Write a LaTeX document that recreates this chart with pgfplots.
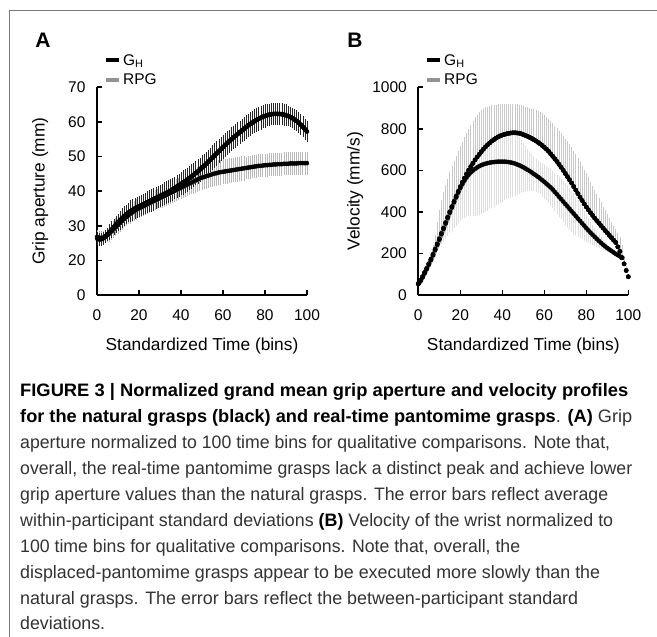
\documentclass[border=0pt]{standalone}
\usepackage{fontspec}
\setmainfont{Liberation Sans}
\usepackage{graphicx}
\usepackage{pgfplots}
\usepackage{pgfplotstable}
\pgfplotsset{compat=1.18}

\definecolor{rpggray}{RGB}{147,147,147}
\definecolor{barA}{HTML}{B8B8B8}
\definecolor{barBgh}{HTML}{C8C8C8}
\definecolor{barBrpg}{HTML}{DEDEDE}
\definecolor{captxt}{HTML}{333333}
\definecolor{frame}{HTML}{7A7A7A}

% panel A: grip aperture, mean and SD per time bin
\pgfplotstableread{
x gh ghsd rpg rpgsd
0 26.3 1.9 26.8 2.0
1 26.1 1.9 26.6 2.0
2 26.1 1.9 26.5 2.0
3 26.4 1.9 26.6 2.0
4 26.9 1.9 26.9 2.0
5 27.5 1.9 27.3 2.0
6 28.2 2.4 27.8 2.5
7 28.9 2.4 28.4 2.5
8 29.6 2.4 29.0 2.5
9 30.3 2.4 29.6 2.5
10 31.0 2.4 30.2 2.5
11 31.6 2.8 30.8 2.5
12 32.2 2.8 31.4 2.5
13 32.8 2.8 32.0 2.5
14 33.3 2.8 32.5 2.5
15 33.8 2.8 33.0 2.5
16 34.2 3.1 33.5 2.9
17 34.6 3.1 33.9 2.9
18 35.0 3.1 34.3 2.9
19 35.3 3.1 34.7 2.9
20 35.6 3.1 35.0 2.9
21 35.9 3.1 35.3 2.9
22 36.2 3.1 35.6 2.9
23 36.5 3.1 35.9 2.9
24 36.8 3.1 36.2 2.9
25 37.1 3.1 36.5 2.9
26 37.4 3.3 36.8 2.9
27 37.7 3.3 37.1 2.9
28 38.0 3.3 37.4 2.9
29 38.3 3.3 37.7 2.9
30 38.6 3.3 38.0 2.9
31 38.9 3.3 38.3 3.2
32 39.2 3.3 38.6 3.2
33 39.5 3.3 38.9 3.2
34 39.8 3.3 39.2 3.2
35 40.1 3.3 39.5 3.2
36 40.5 3.3 39.8 3.2
37 40.9 3.3 40.1 3.2
38 41.3 3.3 40.4 3.2
39 41.7 3.3 40.7 3.2
40 42.1 3.3 41.0 3.2
41 42.5 3.5 41.3 3.2
42 42.9 3.5 41.6 3.2
43 43.3 3.5 41.9 3.2
44 43.8 3.5 42.2 3.2
45 44.2 3.5 42.5 3.2
46 44.7 3.5 42.8 3.6
47 45.2 3.5 43.1 3.6
48 45.7 3.5 43.4 3.6
49 46.2 3.5 43.7 3.6
50 46.8 3.5 43.9 3.6
51 47.3 3.5 44.1 3.6
52 47.9 3.5 44.3 3.6
53 48.5 3.5 44.5 3.6
54 49.1 3.5 44.7 3.6
55 49.7 3.5 44.9 3.6
56 50.3 3.5 45.1 3.6
57 50.9 3.5 45.2 3.6
58 51.5 3.5 45.4 3.6
59 52.1 3.5 45.5 3.6
60 52.7 3.5 45.6 3.6
61 53.3 3.4 45.7 3.6
62 53.9 3.4 45.8 3.6
63 54.4 3.4 45.9 3.6
64 55.0 3.4 46.0 3.6
65 55.5 3.4 46.1 3.6
66 56.0 3.4 46.2 3.6
67 56.5 3.4 46.3 3.6
68 57.0 3.4 46.4 3.6
69 57.5 3.4 46.5 3.6
70 58.0 3.4 46.6 3.6
71 58.5 3.4 46.7 3.3
72 59.0 3.4 46.8 3.3
73 59.4 3.4 46.9 3.3
74 59.8 3.4 47.0 3.3
75 60.2 3.4 47.1 3.3
76 60.6 3.4 47.2 3.3
77 60.9 3.4 47.3 3.3
78 61.2 3.4 47.3 3.3
79 61.5 3.4 47.4 3.3
80 61.7 3.4 47.5 3.3
81 61.9 3.2 47.5 3.3
82 62.1 3.2 47.6 3.3
83 62.2 3.2 47.6 3.3
84 62.3 3.2 47.7 3.3
85 62.3 3.2 47.7 3.3
86 62.3 3.2 47.8 3.3
87 62.3 3.2 47.8 3.3
88 62.2 3.2 47.8 3.3
89 62.1 3.2 47.9 3.3
90 61.9 3.2 47.9 3.3
91 61.7 3.0 47.9 3.3
92 61.4 3.0 48.0 3.3
93 61.1 3.0 48.0 3.3
94 60.7 3.0 48.0 3.3
95 60.3 3.0 48.0 3.3
96 59.8 3.0 48.1 3.3
97 59.2 3.0 48.1 3.3
98 58.6 3.0 48.1 3.3
99 57.9 3.0 48.1 3.3
100 57.2 3.0 48.1 3.3
}\dataA

% panel B: wrist velocity, G_H with upper SD
\pgfplotstableread{
x gh ghup
0 55 5
1 70 5
2 88 7
3 108 7
4 128 12
5 150 15
6 172 28
7 195 45
8 220 70
9 245 105
10 270 140
11 296 159
12 322 173
13 348 182
14 374 186
15 400 190
16 425 195
17 450 195
18 475 195
19 498 194
20 521 194
21 543 195
22 563 197
23 583 197
24 601 199
25 618 202
26 634 206
27 650 205
28 664 204
29 677 203
30 690 200
31 702 195
32 713 190
33 723 184
34 732 178
35 741 172
36 748 167
37 755 162
38 761 157
39 766 153
40 770 150
41 773 147
42 776 144
43 778 142
44 780 140
45 781 139
46 781 139
47 780 140
48 779 137
49 776 137
50 772 138
51 768 138
52 764 139
53 759 141
54 754 143
55 748 146
56 742 148
57 735 151
58 728 153
59 720 154
60 711 155
61 702 156
62 692 156
63 680 158
64 668 159
65 656 159
66 643 160
67 629 162
68 615 163
69 600 166
70 585 167
71 570 170
72 555 173
73 539 173
74 522 173
75 505 172
76 488 171
77 471 170
78 455 167
79 439 165
80 424 162
81 410 156
82 396 150
83 383 143
84 370 136
85 358 128
86 346 120
87 334 112
88 322 104
89 310 97
90 299 89
91 287 83
92 276 76
93 264 70
94 253 63
95 232 66
96 210 71
97 180 60
98 150 40
99 118 22
100 88 12
}\dataBgh

% panel B: RPG with SD (ends at bin 97)
\pgfplotstableread{
x rpg rpgsd
0 52 7
1 66 6
2 84 8
3 104 9
4 124 12
5 146 16
6 168 20
7 191 26
8 216 31
9 241 31
10 266 34
11 292 47
12 318 61
13 344 74
14 370 85
15 396 98
16 421 111
17 446 125
18 470 137
19 493 148
20 515 158
21 534 166
22 551 179
23 566 191
24 579 201
25 590 210
26 599 218
27 607 225
28 614 230
29 620 234
30 625 235
31 629 235
32 632 233
33 635 230
34 637 225
35 639 220
36 640 214
37 641 208
38 642 203
39 642 198
40 642 193
41 642 187
42 641 181
43 640 175
44 638 169
45 636 163
46 633 155
47 629 146
48 625 137
49 620 127
50 615 118
51 609 109
52 603 101
53 597 95
54 590 89
55 583 84
56 576 80
57 569 78
58 561 77
59 553 81
60 545 81
61 536 81
62 527 85
63 518 88
64 508 91
65 496 93
66 485 95
67 473 96
68 462 98
69 450 100
70 438 101
71 427 102
72 415 101
73 403 99
74 392 97
75 380 93
76 368 88
77 357 83
78 345 77
79 334 72
80 322 65
81 311 59
82 300 53
83 290 48
84 280 43
85 270 38
86 260 33
87 251 29
88 242 25
89 234 21
90 226 17
91 219 14
92 212 12
93 205 10
94 198 8
95 192 7
96 186 8
97 178 8
}\dataBrpg

\pgfplotsset{panel/.style={
  scale only axis, width=210pt, height=207.7pt, anchor=south west,
  xmin=0, xmax=100, xtick={0,20,40,60,80,100},
  axis x line*=bottom, axis y line*=left,
  axis line style={line width=2.2pt, black},
  tick align=inside, major tick length=5pt,
  major tick style={line width=1.6pt, black},
  tick label style={font=\fontsize{15.5}{16}\selectfont, text=black},
  /pgf/number format/assume math mode=true,
  /pgf/number format/1000 sep={},
  xticklabel style={yshift=-11pt},
  yticklabel style={xshift=-8pt},
  label style={font=\fontsize{17.3}{18}\selectfont},
  xlabel={Standardized Time (bins)},
  xlabel style={at={(rel axis cs:0.5,-0.245)}, anchor=center},
  ylabel style={anchor=center},
  clip=false,
  legend style={draw=none, fill=none, anchor=north west, inner sep=0pt,
    font=\fontsize{15.5}{16}\selectfont, row sep=3pt, cells={anchor=west}},
  legend image code/.code={\draw[##1, line width=4pt] (0pt,0pt) -- (13pt,0pt);},
  % bars only: the markers of these plots are made invisible
  barsonly/.style={only marks, mark=*, mark options={draw=none, fill=none}, forget plot},
  meanline/.style={color=##1, draw=##1, line width=4.5pt, mark=none, forget plot},
}}

\newcommand{\capline}[3]{\node at (20pt,#1) {\resizebox{#2}{\height}{#3}};}

\begin{document}
\begin{tikzpicture}
\useasboundingbox (0,0) rectangle (657pt,637pt);
\fill[white] (0,0) rectangle (657pt,637pt);
\draw[frame, line width=1pt] (9pt,0pt) -- (9pt,626pt) -- (657pt,626pt);

\node[font=\fontsize{21}{21}\selectfont\bfseries] at (43pt,597pt) {A};
\node[font=\fontsize{21}{21}\selectfont\bfseries] at (355pt,597pt) {B};

% ---- panel A
\begin{axis}[panel, at={(97pt,342pt)},
  ymin=10, ymax=70, ytick={10,20,30,40,50,60,70},
  yticklabels={0,20,30,40,50,60,70},
  ylabel={Grip aperture (mm)},
  ylabel style={at={(rel axis cs:-0.271,0.5)}},
  legend style={at={(rel axis cs:0.033,1.17)}}]
\addplot[barsonly,
  error bars/.cd, y dir=both, y explicit, error mark=none,
  error bar style={line width=0.8pt, draw=barA}]
  table[x=x, y=rpg, y error=rpgsd]{\dataA};
\addplot[barsonly,
  error bars/.cd, y dir=both, y explicit, error mark=none,
  error bar style={line width=0.55pt, draw=black!85}]
  table[x=x, y=gh, y error=ghsd]{\dataA};
\addplot[meanline=rpggray] table[x=x, y=rpg]{\dataA};
\addplot[meanline=black] table[x=x, y=gh]{\dataA};
\addlegendimage{black}
\addlegendentry{G\textsubscript{H}}
\addlegendimage{rpggray}
\addlegendentry{RPG}
\end{axis}

% ---- panel B
\begin{axis}[panel, at={(418.3pt,342pt)},
  ymin=0, ymax=1000, ytick={0,200,400,600,800,1000},
  ylabel={Velocity (mm/s)},
  ylabel style={at={(rel axis cs:-0.301,0.5)}},
  legend style={at={(rel axis cs:0.032,1.17)}}]
\addplot[barsonly,
  error bars/.cd, y dir=both, y explicit, error mark=none,
  error bar style={line width=0.8pt, draw=barBrpg}]
  table[x=x, y=rpg, y error=rpgsd]{\dataBrpg};
\addplot[barsonly,
  error bars/.cd, y dir=plus, y explicit, error mark=none,
  error bar style={line width=0.8pt, draw=barBgh}]
  table[x=x, y=gh, y error=ghup]{\dataBgh};
\addplot[meanline=rpggray] table[x=x, y=rpg]{\dataBrpg};
\addplot[black, only marks, mark=*, mark size=2.2pt, forget plot] table[x=x, y=gh]{\dataBgh};
\addlegendimage{black}
\addlegendentry{G\textsubscript{H}}
\addlegendimage{rpggray}
\addlegendentry{RPG}
\end{axis}

% ---- caption, one node per printed line
\begin{scope}[every node/.style={anchor=base west, inner sep=0pt, text=captxt,
    font=\fontsize{18}{20}\selectfont}]
\capline{240pt}{608pt}{\textcolor{black}{\bfseries FIGURE 3 | Normalized grand mean grip aperture and velocity profiles}}
\capline{214pt}{612pt}{\textcolor{black}{\bfseries for the natural grasps (black) and real-time pantomime grasps}. \textcolor{black}{\bfseries (A)} Grip}
\capline{188pt}{590pt}{aperture normalized to 100 time bins for qualitative comparisons. Note that,}
\capline{162pt}{612pt}{overall, the real-time pantomime grasps lack a distinct peak and achieve lower}
\capline{136pt}{588pt}{grip aperture values than the natural grasps. The error bars reflect average}
\capline{110pt}{593pt}{within-participant standard deviations \textcolor{black}{\bfseries (B)} Velocity of the wrist normalized to}
\capline{84pt}{500pt}{100 time bins for qualitative comparisons. Note that, overall, the}
\capline{58pt}{580pt}{displaced-pantomime grasps appear to be executed more slowly than the}
\capline{32pt}{558pt}{natural grasps. The error bars reflect the between-participant standard}
\capline{7pt}{85pt}{deviations.}
\end{scope}
\end{tikzpicture}
\end{document}
